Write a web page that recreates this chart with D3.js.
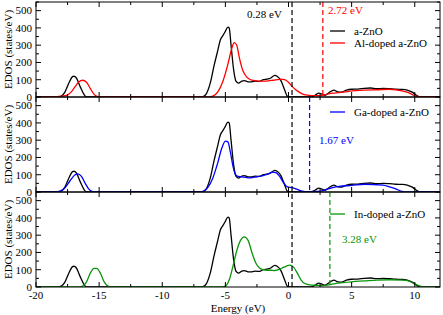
<!DOCTYPE html>
<html><head><meta charset="utf-8">
<script src="https://cdn.jsdelivr.net/npm/d3@7"></script>
<style>body{margin:0;background:#fff}svg{display:block}text{font-family:"Liberation Serif","DejaVu Serif",serif}</style>
</head><body><svg id="c" width="443" height="315"></svg>
<script>
// ---- data ----
const xTicks = [-20,-15,-10,-5,0,5,10];
const yTicks = [0,100,200,300,400,500];
const panelNames = ["Al-doped a-ZnO","Ga-doped a-ZnO","In-doped a-ZnO"];
const panelColors = ["#ff0000","#0000ff","#0a960a"];
const gapValues = [2.72, 1.67, 3.28];
const pristineGap = 0.28;

const eZnO = [-20,-18.3,-18,-17.7,-17.4,-17.1,-17,-16.8,-16.5,-16.2,-16,-7.2,-6.8,-6.5,-6.2,-5.9,-5.6,-5.4,-5.2,-5.0,-4.8,-4.7,-4.55,-4.35,-4.15,-3.95,-3.7,-3.5,-3.2,-2.9,-2.6,-2.3,-2.0,-1.7,-1.4,-1.1,-0.9,-0.6,-0.3,-0.1,0.1,1.8,2.1,2.4,2.6,2.9,3.2,3.6,3.9,4.2,4.6,5.0,5.5,6.0,6.5,7.0,7.5,8.0,8.5,9.0,9.4,9.8,10.1,10.4,12];
const vZnO = [0,0,5,30,80,118,120,110,60,15,0,0,2,20,80,180,270,330,355,380,405,400,300,160,90,80,92,95,88,88,92,90,100,103,110,125,120,95,40,5,0,0,10,22,18,10,25,40,30,28,40,45,46,50,52,48,50,48,45,44,40,28,12,0,0];

const eAl = [-20,-18.6,-18.2,-17.6,-17.2,-16.9,-16.6,-16.3,-16.0,-15.7,-15.4,-15.1,-14.9,-6.3,-6.0,-5.6,-5.2,-4.8,-4.5,-4.3,-4.1,-3.9,-3.6,-3.3,-3.0,-2.7,-2.4,-2.1,-1.8,-1.5,-1.2,-0.9,-0.6,-0.3,0,0.3,0.6,0.9,1.2,1.6,2.0,2.5,3.0,3.5,4.0,4.5,5.0,6.0,7.0,8.0,8.5,9.0,9.5,10.0,10.5,12];
const vAl = [0,0,3,10,30,60,88,97,85,50,15,2,0,0,5,30,90,190,280,315,300,230,150,115,100,95,92,92,92,95,97,100,103,100,85,60,40,25,15,10,8,8,15,22,25,30,35,40,42,45,42,35,25,8,0,0];

const eGa = [-20,-18.5,-18.1,-17.7,-17.3,-16.9,-16.7,-16.4,-16.1,-15.8,-15.5,-15.3,-7.0,-6.7,-6.4,-6.0,-5.6,-5.3,-5.0,-4.8,-4.6,-4.4,-4.2,-4.0,-3.7,-3.4,-3.1,-2.8,-2.5,-2.2,-1.9,-1.6,-1.3,-1.0,-0.7,-0.4,-0.1,0.3,0.7,1.1,1.5,2.0,2.5,3.0,3.5,4.0,5.0,6.0,7.0,7.5,8.0,8.5,9.0,9.3,12];
const vGa = [0,0,5,25,65,100,105,90,50,15,2,0,0,5,25,80,170,250,295,290,230,150,100,90,88,85,82,85,88,92,98,105,115,112,90,55,30,25,15,5,2,3,5,15,25,32,38,45,42,40,30,18,3,0,0];

const eIn = [-20,-16.6,-16.3,-16.0,-15.7,-15.4,-15.2,-14.9,-14.6,-14.3,-14.1,-5.3,-5.0,-4.7,-4.4,-4.1,-3.8,-3.5,-3.2,-2.9,-2.6,-2.3,-2.0,-1.7,-1.4,-1.1,-0.8,-0.5,-0.2,0.1,0.4,0.7,1.0,1.3,1.7,2.2,2.7,3.2,3.7,4.3,5.0,6.0,7.0,8.0,9.0,9.5,10.0,10.5,10.8,12];
const vIn = [0,0,5,30,80,108,108,80,30,5,0,0,5,40,120,210,270,290,270,200,140,110,100,97,97,95,100,110,120,127,115,80,40,20,12,10,8,12,20,25,30,35,40,42,40,35,18,3,0,0];

const dopedE = [eAl, eGa, eIn];
const dopedV = [vAl, vGa, vIn];

// ---- layout ----
const svg = d3.select("#c");
const L = 36, R = 440, T = 2, PH = 95;
const x = d3.scaleLinear().domain([-20, 12]).range([L, R]);
const font = 11;

for (let p = 0; p < 3; p++) {
  const top = T + p * PH, bot = top + PH;
  const y = d3.scaleLinear().domain([0, 550]).range([bot, top]);
  const g = svg.append("g");
  const clipId = "clip" + p;
  svg.append("clipPath").attr("id", clipId).append("rect")
    .attr("x", L).attr("y", top).attr("width", R - L).attr("height", PH);

  const line = d3.line().x(d => x(d[0])).y(d => y(d[1])).curve(d3.curveMonotoneX);
  const plot = g.append("g").attr("clip-path", `url(#${clipId})`);
  plot.append("path").datum(eZnO.map((e, i) => [e, vZnO[i]]))
    .attr("d", line).attr("fill", "none").attr("stroke", "#000").attr("stroke-width", 1.3);
  plot.append("path").datum(dopedE[p].map((e, i) => [e, dopedV[p][i]]))
    .attr("d", line).attr("fill", "none").attr("stroke", panelColors[p]).attr("stroke-width", 1.3);

  // doped gap dashed line
  g.append("line").attr("x1", x(gapValues[p])).attr("x2", x(gapValues[p]))
    .attr("y1", top).attr("y2", bot).attr("stroke", panelColors[p])
    .attr("stroke-width", 1.2).attr("stroke-dasharray", "5,3");

  // frame
  g.append("rect").attr("x", L).attr("y", top).attr("width", R - L).attr("height", PH)
    .attr("fill", "none").attr("stroke", "#000").attr("stroke-width", 1);

  // y ticks (major + minor) on both sides, inward
  const yMinor = d3.range(0, 551, 50);
  yMinor.forEach(v => {
    const major = v % 100 === 0;
    const len = major ? 5 : 3;
    g.append("line").attr("x1", L).attr("x2", L + len).attr("y1", y(v)).attr("y2", y(v)).attr("stroke", "#000");
    g.append("line").attr("x1", R).attr("x2", R - len).attr("y1", y(v)).attr("y2", y(v)).attr("stroke", "#000");
  });
  yTicks.forEach(v => {
    g.append("text").attr("x", L - 4).attr("y", y(v)).attr("dy", "0.35em")
      .attr("text-anchor", "end").attr("font-size", font).text(v);
  });
  // x ticks top and bottom, inward
  d3.range(-20, 12.01, 2.5).forEach(v => {
    const major = v % 5 === 0;
    const len = major ? 5 : 3;
    g.append("line").attr("x1", x(v)).attr("x2", x(v)).attr("y1", bot).attr("y2", bot - len).attr("stroke", "#000");
    g.append("line").attr("x1", x(v)).attr("x2", x(v)).attr("y1", top).attr("y2", top + len).attr("stroke", "#000");
  });

  // y label
  g.append("text").attr("transform", `translate(12,${(top + bot) / 2}) rotate(-90)`)
    .attr("text-anchor", "middle").attr("font-size", font).text("EDOS (states/eV)");
}

// pristine gap dashed line across all panels
svg.append("line").attr("x1", x(pristineGap)).attr("x2", x(pristineGap))
  .attr("y1", T).attr("y2", T + 3 * PH).attr("stroke", "#000")
  .attr("stroke-width", 1.2).attr("stroke-dasharray", "5,3");

// x axis labels
const bottom = T + 3 * PH;
xTicks.forEach(v => {
  svg.append("text").attr("x", x(v)).attr("y", bottom + 12).attr("text-anchor", "middle")
    .attr("font-size", font).text(v);
});
svg.append("text").attr("x", (L + R) / 2).attr("y", bottom + 25).attr("text-anchor", "middle")
  .attr("font-size", font).text("Energy (eV)");

// annotations
svg.append("text").attr("x", 247).attr("y", 18).attr("font-size", font).text(pristineGap.toFixed(2) + " eV");
const gapLabelPos = [[328, 14], [319, 144], [342, 243]];
gapValues.forEach((v, p) => {
  svg.append("text").attr("x", gapLabelPos[p][0]).attr("y", gapLabelPos[p][1])
    .attr("font-size", font).attr("fill", panelColors[p]).text(v.toFixed(2) + " eV");
});

// legends
const legend = [
  {y: 31, color: "#000", label: "a-ZnO"},
  {y: 43, color: panelColors[0], label: panelNames[0]},
  {y: 112, color: panelColors[1], label: panelNames[1]},
  {y: 214, color: panelColors[2], label: panelNames[2]}
];
legend.forEach(d => {
  svg.append("line").attr("x1", 330).attr("x2", 345).attr("y1", d.y).attr("y2", d.y)
    .attr("stroke", d.color).attr("stroke-width", 1.3);
  svg.append("text").attr("x", 354).attr("y", d.y).attr("dy", "0.35em")
    .attr("font-size", font).text(d.label);
});
</script></body></html>
